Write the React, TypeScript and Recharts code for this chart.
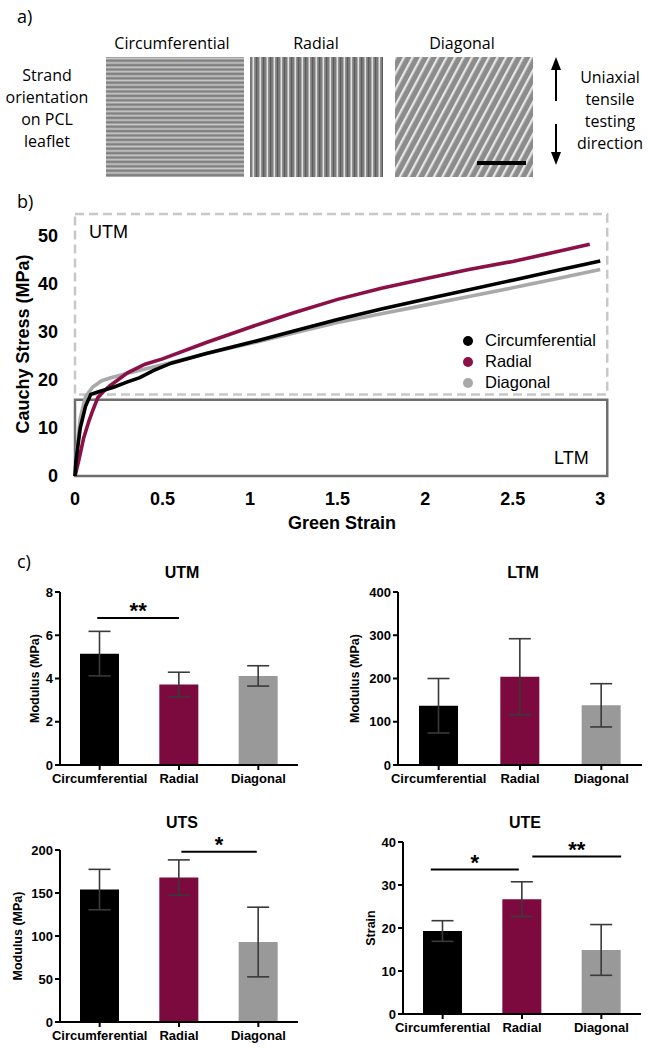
import React from 'react';
import {
  LineChart,
  Line,
  XAxis,
  YAxis,
  ReferenceArea,
  BarChart,
  Bar,
  Cell,
  ErrorBar,
  ReferenceLine,
} from 'recharts';

const ARIAL = '"Liberation Sans", Arial, sans-serif';
const CALIBRI = '"Open Sans", sans-serif';

const seriesNames = ['Circumferential', 'Radial', 'Diagonal'];
const lineColors = ['#000000', '#8c1048', '#a9a9a9'];
const barColors = ['#000000', '#7d0a3e', '#999999'];

// b) stress-strain curves
const circStrain = [0, 0.005, 0.03, 0.06, 0.09, 0.13, 0.22, 0.3, 0.37, 0.45, 0.55, 0.75, 1, 1.25, 1.5, 1.75, 2, 2.25, 2.5, 2.75, 3];
const circStress = [0, 3, 10, 14.5, 17, 17.5, 18.5, 19.6, 20.5, 22, 23.5, 25.5, 27.8, 30.2, 32.6, 34.8, 36.8, 38.8, 40.8, 42.8, 44.8];
const radStrain = [0, 0.02, 0.05, 0.08, 0.1, 0.13, 0.16, 0.2, 0.3, 0.4, 0.5, 0.75, 1, 1.25, 1.5, 1.75, 2, 2.25, 2.5, 2.75, 2.94];
const radStress = [0, 3, 8, 11.5, 13.5, 16.3, 17.5, 18.8, 21.5, 23.3, 24.4, 27.8, 31, 34, 36.8, 39.1, 41.1, 43, 44.7, 46.7, 48.3];
const diaStrain = [0, 0.01, 0.03, 0.06, 0.1, 0.15, 0.2, 0.3, 0.4, 0.5, 0.75, 1, 1.25, 1.5, 1.75, 2, 2.25, 2.5, 2.75, 3];
const diaStress = [0, 5, 12, 16.5, 18.5, 19.8, 20.4, 21.4, 22.3, 23.2, 25.5, 27.6, 29.8, 32, 33.8, 35.6, 37.4, 39.2, 41.1, 43];
const strainTicks = [0, 0.5, 1, 1.5, 2, 2.5, 3];
const stressTicks = [0, 10, 20, 30, 40, 50];
const utmRegion = [17, 54.6];
const ltmRegion = [0, 15.9];

// c) bar panels (mean, sd)
const utmMean = [5.15, 3.72, 4.12];
const utmSd = [1.03, 0.57, 0.47];
const ltmMean = [137, 204, 138];
const ltmSd = [63, 88, 50];
const utsMean = [154, 168, 93];
const utsSd = [23.5, 20.5, 40.5];
const uteMean = [19.3, 26.7, 14.9];
const uteSd = [2.4, 4.05, 5.9];

const utmTicks = [0, 2, 4, 6, 8];
const ltmTicks = [0, 100, 200, 300, 400];
const utsTicks = [0, 50, 100, 150, 200];
const uteTicks = [0, 10, 20, 30, 40];

const utmSig = [{ x1: -0.03, x2: 1.0, y: 6.8, mark: '**' }];
const utsSig = [{ x1: 1.03, x2: 1.98, y: 198, mark: '*' }];
const uteSig = [
  { x1: -0.15, x2: 0.96, y: 33.6, mark: '*' },
  { x1: 1.13, x2: 2.25, y: 36.6, mark: '**' },
];

const toPoints = (xs: number[], ys: number[]) => xs.map((x, i) => ({ x, y: ys[i] }));

const Txt = ({ x, y, size, children, anchor = 'start', weight = 'normal', family = ARIAL }: any) => (
  <div
    style={{
      position: 'absolute',
      left: anchor === 'middle' ? x - 150 : x,
      width: anchor === 'middle' ? 300 : undefined,
      textAlign: anchor === 'middle' ? 'center' : 'left',
      top: y - size * 0.7,
      fontSize: size,
      lineHeight: `${size * 1.4}px`,
      fontWeight: weight,
      fontFamily: family,
      whiteSpace: 'nowrap',
      color: '#000',
    }}
  >
    {children}
  </div>
);

function PanelA() {
  return (
    <>
      <svg width={648} height={190} style={{ position: 'absolute', left: 0, top: 0 }}>
        <defs>
          <pattern id="hStripe" width="4.4" height="4.4" patternUnits="userSpaceOnUse">
            <rect width="4.4" height="4.4" fill="#808080" />
            <rect y="0.4" width="4.4" height="1.8" fill="#c8c8c8" />
          </pattern>
          <pattern id="vStripe" width="7" height="7" patternUnits="userSpaceOnUse">
            <rect width="7" height="7" fill="#7e7e7e" />
            <rect x="0.5" width="1.7" height="7" fill="#e2e2e2" />
            <rect x="4" width="1.2" height="7" fill="#5c5c5c" />
          </pattern>
          <pattern id="dStripe" width="7.5" height="7.5" patternUnits="userSpaceOnUse" patternTransform="rotate(28)">
            <rect width="7.5" height="7.5" fill="#8c8c8c" />
            <rect width="2.3" height="7.5" fill="#e6e6e6" />
          </pattern>
        </defs>
        <rect x={106} y={57} width={138} height={120} fill="url(#hStripe)" />
        <rect x={250} y={57} width={133} height={120} fill="url(#vStripe)" />
        <rect x={395} y={57} width={138} height={120} fill="url(#dStripe)" />
        <line x1={477} x2={526} y1={163} y2={163} stroke="#000" strokeWidth={4} />
        <line x1={556} x2={556} y1={68} y2={101} stroke="#000" strokeWidth={2} />
        <polygon points="556,57 551,70 561,70" fill="#000" />
        <line x1={556} x2={556} y1={124} y2={154} stroke="#000" strokeWidth={2} />
        <polygon points="556,165 551,152 561,152" fill="#000" />
      </svg>
      <Txt x={17} y={17} size={18} family={CALIBRI}>a)</Txt>
      <Txt x={172} y={43} size={16} anchor="middle" family={CALIBRI}>Circumferential</Txt>
      <Txt x={316} y={43} size={16} anchor="middle" family={CALIBRI}>Radial</Txt>
      <Txt x={462} y={43} size={16} anchor="middle" family={CALIBRI}>Diagonal</Txt>
      {['Strand', 'orientation', 'on PCL', 'leaflet'].map((t, i) => (
        <Txt key={t} x={47} y={75 + i * 22} size={16} anchor="middle" family={CALIBRI}>{t}</Txt>
      ))}
      {['Uniaxial', 'tensile', 'testing', 'direction'].map((t, i) => (
        <Txt key={t} x={610} y={77 + i * 22} size={16} anchor="middle" family={CALIBRI}>{t}</Txt>
      ))}
    </>
  );
}

function PanelB() {
  const series = [
    { name: seriesNames[2], color: lineColors[2], data: toPoints(diaStrain, diaStress) },
    { name: seriesNames[1], color: lineColors[1], data: toPoints(radStrain, radStress) },
    { name: seriesNames[0], color: lineColors[0], data: toPoints(circStrain, circStress) },
  ];
  return (
    <>
      <Txt x={17} y={202} size={18} family={CALIBRI}>b)</Txt>
      <div style={{ position: 'absolute', left: 0, top: 190 }}>
        <LineChart width={648} height={350} margin={{ top: 22, right: 39, bottom: 34, left: 15 }}>
          <XAxis
            type="number"
            dataKey="x"
            domain={[0, 3.05]}
            ticks={strainTicks}
            axisLine={false}
            tickLine={false}
            tickSize={0}
            tickMargin={16}
            height={30}
            tick={{ fill: '#000', fontSize: 18, fontWeight: 'bold', fontFamily: ARIAL }}
            label={{ value: 'Green Strain', position: 'bottom', offset: 10, style: { fill: '#000', fontSize: 18, fontWeight: 'bold', fontFamily: ARIAL } }}
          />
          <YAxis
            type="number"
            domain={[0, 55]}
            ticks={stressTicks}
            axisLine={false}
            tickLine={false}
            tickSize={0}
            tickMargin={17}
            width={60}
            tick={{ fill: '#000', fontSize: 18, fontWeight: 'bold', fontFamily: ARIAL }}
            label={{ value: 'Cauchy Stress (MPa)', angle: -90, position: 'insideLeft', offset: 8, style: { textAnchor: 'middle', fill: '#000', fontSize: 18, fontWeight: 'bold', fontFamily: ARIAL } }}
          />
          <ReferenceArea x1={0} x2={3.04} y1={utmRegion[0]} y2={utmRegion[1]} fill="none" fillOpacity={0} stroke="#c8c8c8" strokeWidth={2.5} strokeDasharray="9 5" />
          <ReferenceArea x1={0} x2={3.04} y1={ltmRegion[0]} y2={ltmRegion[1]} fill="none" fillOpacity={0} stroke="#6e6e6e" strokeWidth={2.5} />
          {series.map((s) => (
            <Line
              key={s.name}
              data={s.data}
              dataKey="y"
              name={s.name}
              type="linear"
              stroke={s.color}
              strokeWidth={3.6}
              dot={false}
              isAnimationActive={false}
            />
          ))}
        </LineChart>
      </div>
      <Txt x={89} y={233} size={18}>UTM</Txt>
      <Txt x={554} y={459} size={18}>LTM</Txt>
      {seriesNames.map((n, i) => (
        <React.Fragment key={n}>
          <div style={{ position: 'absolute', left: 463, top: 336 + i * 21, width: 10, height: 10, borderRadius: '50%', background: lineColors[i] }} />
          <Txt x={485} y={341 + i * 21} size={16.5}>{n}</Txt>
        </React.Fragment>
      ))}
    </>
  );
}

function BarPanel({ axisX, yTop, y0, right, title, titleY, mean, sd, ticks, yLabel, labelGap, sigs }: any) {
  const padL = 70;
  const padT = 45;
  const padB = 40;
  const padR = 12;
  const width = right - axisX + padL + padR;
  const height = y0 - yTop + padT + padB;
  const data = seriesNames.map((name, i) => ({ idx: i, name, value: mean[i], err: sd[i] }));
  const tickStyle = { fill: '#000', fontSize: 13, fontWeight: 'bold', fontFamily: ARIAL };
  return (
    <>
      <Txt x={(axisX + right) / 2 + 3} y={titleY} size={16} anchor="middle" weight="bold">{title}</Txt>
      <div style={{ position: 'absolute', left: axisX - padL, top: yTop - padT }}>
        <BarChart width={width} height={height} data={data} margin={{ top: padT, right: padR, bottom: padB - 30, left: padL - 60 }}>
          <XAxis
            type="number"
            dataKey="idx"
            domain={[-0.5, 2.5]}
            ticks={[0, 1, 2]}
            interval={0}
            tickFormatter={(v: number) => seriesNames[v]}
            height={30}
            stroke="#000"
            strokeWidth={2}
            tickSize={5}
            tickMargin={4}
            tick={tickStyle}
          />
          <YAxis
            type="number"
            domain={[0, ticks[ticks.length - 1]]}
            ticks={ticks}
            width={60}
            stroke="#000"
            strokeWidth={2}
            tickSize={5}
            tickMargin={2}
            tick={tickStyle}
            label={{ value: yLabel, angle: -90, position: 'insideLeft', offset: 60 - labelGap, style: { textAnchor: 'middle', fill: '#000', fontSize: 12.5, fontWeight: 'bold', fontFamily: ARIAL } }}
          />
          <Bar dataKey="value" barSize={39} isAnimationActive={false}>
            {data.map((d, i) => (
              <Cell key={d.name} fill={barColors[i]} />
            ))}
            <ErrorBar dataKey="err" width={11} stroke="#3a3a3a" strokeWidth={1.6} direction="y" />
          </Bar>
          {sigs.map((s: any, i: number) => (
            <ReferenceLine
              key={i}
              segment={[{ x: s.x1, y: s.y }, { x: s.x2, y: s.y }]}
              stroke="#000"
              strokeWidth={2}
              ifOverflow="visible"
              label={{ value: s.mark, position: 'top', offset: 0, style: { fill: '#000', fontSize: 22, fontWeight: 'bold', fontFamily: ARIAL } }}
            />
          ))}
        </BarChart>
      </div>
    </>
  );
}

export default function App() {
  return (
    <div style={{ position: 'absolute', left: 0, top: 0, width: 648, height: 1050, background: '#fff', overflow: 'hidden' }}>
      <PanelA />
      <PanelB />
      <Txt x={17} y={562} size={18} family={CALIBRI}>c)</Txt>
      <BarPanel axisX={60} yTop={592} y0={765} right={298} title="UTM" titleY={573} mean={utmMean} sd={utmSd} ticks={utmTicks} yLabel="Modulus (MPa)" labelGap={25} sigs={utmSig} />
      <BarPanel axisX={398} yTop={592} y0={765} right={642} title="LTM" titleY={573} mean={ltmMean} sd={ltmSd} ticks={ltmTicks} yLabel="Modulus (MPa)" labelGap={43} sigs={[]} />
      <BarPanel axisX={60} yTop={850} y0={1022} right={298} title="UTS" titleY={823} mean={utsMean} sd={utsSd} ticks={utsTicks} yLabel="Modulus (MPa)" labelGap={42} sigs={utsSig} />
      <BarPanel axisX={403} yTop={842} y0={1014} right={641} title="UTE" titleY={823} mean={uteMean} sd={uteSd} ticks={uteTicks} yLabel="Strain" labelGap={32} sigs={uteSig} />
    </div>
  );
}
